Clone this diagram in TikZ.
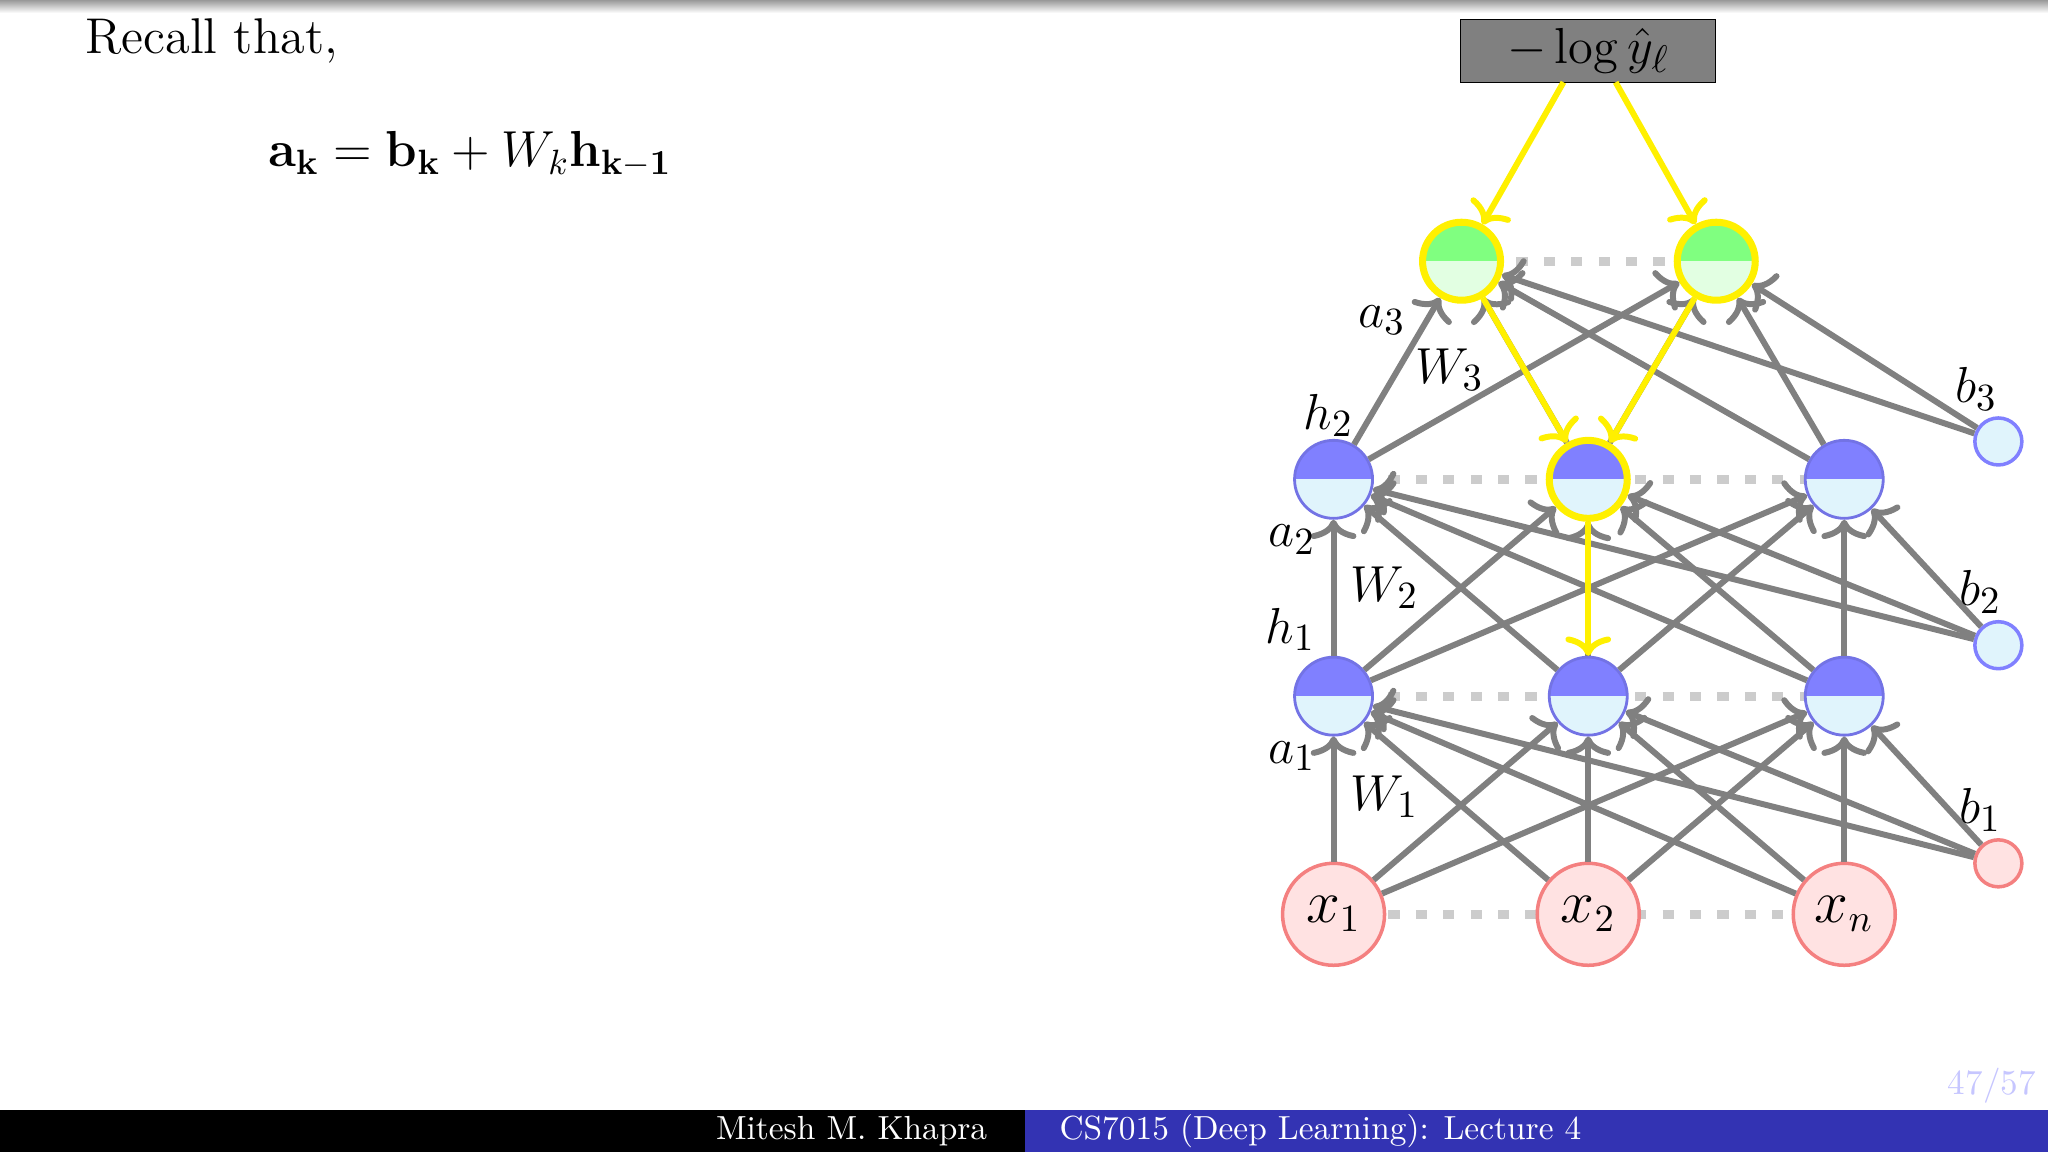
\documentclass[tikz,border=0pt]{standalone}
\usetikzlibrary{arrows.meta}
\definecolor{hb}{HTML}{8080FF}
\definecolor{hl}{HTML}{E0F4FC}
\definecolor{gt}{HTML}{80FF80}
\definecolor{gl}{HTML}{E2FFE2}
\definecolor{pk}{HTML}{FFE2E2}
\definecolor{pkb}{HTML}{F48080}
\definecolor{yl}{HTML}{FFF000}
\definecolor{eg}{HTML}{808080}
\definecolor{footblue}{HTML}{3333B3}
\begin{document}
\begin{tikzpicture}[x=0.01306cm,y=-0.01306cm,
  tip/.tip={Computer Modern Rightarrow[length=5.5pt,width=13pt,line width=1.7pt]},
  edge/.style={draw=eg,line width=1.7pt,-tip},
  yedge/.style={draw=yl,line width=1.7pt,-tip},
  dotline/.style={draw=gray!40,line width=2.5pt,dash pattern=on 3.2pt off 4.6pt},
  hid/.style={circle,minimum size=0.78cm,inner sep=0pt,draw=hb!90!black,line width=0.8pt,fill=hl,
     path picture={\fill[hb] (path picture bounding box.north west) rectangle (path picture bounding box.east);}},
  outn/.style={circle,minimum size=0.78cm,inner sep=0pt,draw=yl,line width=2pt,fill=gl,
     path picture={\fill[gt] (path picture bounding box.north west) rectangle (path picture bounding box.east);}},
  inp/.style={circle,minimum size=1.02cm,inner sep=0pt,draw=pkb,line width=1pt,fill=pk,font=\fontsize{16}{18}\selectfont},
  bias/.style={circle,minimum size=0.47cm,inner sep=0pt,draw=hb,line width=1pt,fill=hl},
  lbl/.style={font=\fontsize{15}{17}\selectfont,inner sep=0pt}]
\useasboundingbox (0,0) rectangle (1568,882);
\shade[top color=gray!80,bottom color=white] (0,0) rectangle (1568,10);
% footer
\fill[black] (0,850) rectangle (785,882);
\fill[footblue] (785,850) rectangle (1568,882);
\node[text=white,font=\fontsize{9.5}{11}\selectfont] (auth) at (652,866) {Mitesh M. Khapra};
\node[text=white,font=\fontsize{9.5}{11}\selectfont] (course) at (1011,866) {CS7015 (Deep Learning): Lecture 4};
\node[text=hb!45,font=\fontsize{10}{12}\selectfont] (page) at (1525,831) {47/57};
% text
\node[anchor=west,font=\fontsize{14.3}{17}\selectfont,inner sep=0pt] (recall) at (65,31) {Recall that,};
\node[anchor=west,font=\fontsize{14.3}{17}\selectfont,inner sep=0pt] (eq) at (205,118) {$\mathbf{a_k}=\mathbf{b_k}+W_k\mathbf{h_{k-1}}$};
% dotted lines
\draw[dotline] (1021,700) -- (1412,700);
\draw[dotline] (1021,533) -- (1412,533);
\draw[dotline] (1021,367) -- (1412,367);
\draw[dotline] (1119,200) -- (1314,200);
% nodes
\node[inp] (x1) at (1021,700) {$x_1$};
\node[inp] (x2) at (1216,700) {$x_2$};
\node[inp] (x3) at (1412,700) {$x_n$};
\node[hid] (h11) at (1021,533) {};
\node[hid] (h12) at (1216,533) {};
\node[hid] (h13) at (1412,533) {};
\node[hid] (h21) at (1021,367) {};
\node[hid,draw=yl,line width=2pt] (h22) at (1216,367) {};
\node[hid] (h23) at (1412,367) {};
\node[outn] (o1) at (1119,200) {};
\node[outn] (o2) at (1314,200) {};
\node[bias,draw=pkb,fill=pk] (b1) at (1530,661) {};
\node[bias] (b2) at (1530,494) {};
\node[bias] (b3) at (1530,338) {};
\node[draw=black,fill=eg,minimum width=2.55cm,minimum height=0.63cm,font=\fontsize{15}{17}\selectfont,inner sep=0pt] (loss) at (1216,39) {$-\log\hat{y}_\ell$};
% edges
\foreach \s in {x1,x2,x3,b1}{\foreach \t in {h11,h12,h13}{\draw[edge] (\s) -- (\t);}}
\foreach \s in {h11,h12,h13,b2}{\foreach \t in {h21,h22,h23}{\draw[edge] (\s) -- (\t);}}
\foreach \s in {h21,h22,h23,b3}{\foreach \t in {o1,o2}{\draw[edge] (\s) -- (\t);}}
% yellow
\coordinate (l1) at (1197,63); \coordinate (l2) at (1237,63);
\draw[yedge] (l1) -- (o1);
\draw[yedge] (l2) -- (o2);
\draw[yedge] (o1) -- (h22);
\draw[yedge] (o2) -- (h22);
\draw[yedge] (h22) -- (h12);
% labels
\node[lbl] (la3) at (1058,245) {$a_3$};
\node[lbl] (lw3) at (1110,283) {$W_3$};
\node[lbl] (lh2) at (1017,318) {$h_2$};
\node[lbl] (la2) at (989,413) {$a_2$};
\node[lbl] (lw2) at (1060,450) {$W_2$};
\node[lbl] (lh1) at (988,482) {$h_1$};
\node[lbl] (la1) at (989,579) {$a_1$};
\node[lbl] (lw1) at (1060,610) {$W_1$};
\node[lbl] (lb3) at (1513,298) {$b_3$};
\node[lbl] (lb2) at (1516,453) {$b_2$};
\node[lbl] (lb1) at (1516,620) {$b_1$};
\end{tikzpicture}
\end{document}
